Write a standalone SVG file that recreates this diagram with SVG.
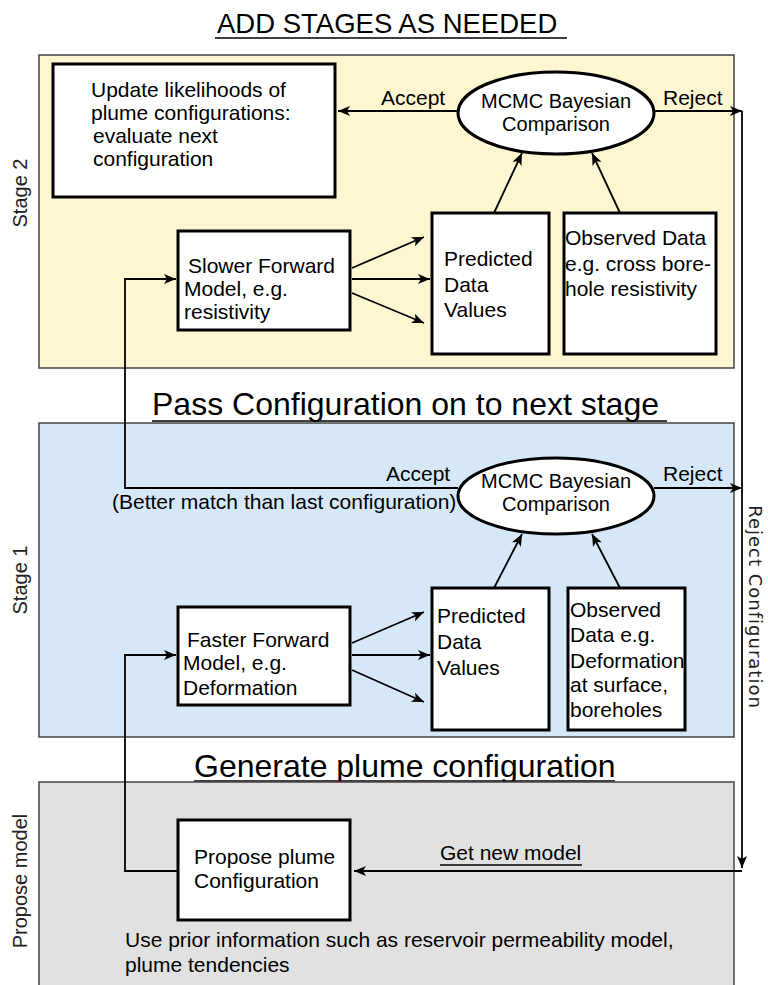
<svg xmlns="http://www.w3.org/2000/svg" width="768" height="985" viewBox="0 0 768 985">
<defs>
<marker id="ah" viewBox="0 0 12 10" refX="12" refY="5" markerWidth="12" markerHeight="10" orient="auto" markerUnits="userSpaceOnUse">
<path d="M0,0 L12,5 L0,10 L3,5 Z" fill="#000"/>
</marker>
<style>
text{font-family:"Liberation Sans",Arial,sans-serif;fill:#000;}
.t{font-size:21px;}
.m{font-size:20px;}
.h{font-size:32px;}
.side{font-size:20px;fill:#222;}
.panel{stroke:#444;stroke-width:1.5;}
.box{fill:#fff;stroke:#000;stroke-width:3;}
.ell{fill:#fff;stroke:#000;stroke-width:3;}
.c{fill:none;stroke:#000;stroke-width:1.8;}
.ul{stroke:#000;stroke-width:1.5;}
</style>
</defs>
<rect width="768" height="985" fill="#fff"/>

<g id="title">
<text x="217" y="33" style="font-size:27.5px">ADD STAGES AS NEEDED</text>
<line class="ul" x1="215" y1="38" x2="567" y2="38"/>
</g>

<g id="stage2-panel">
<rect class="panel" x="39" y="55" width="695" height="313" fill="#fdf6d0"/>
<text class="side" transform="translate(27,193) rotate(-90)" text-anchor="middle">Stage 2</text>
</g>

<g id="stage1-title">
<text class="h" x="152" y="415">Pass Configuration on to next stage</text>
<line class="ul" x1="152" y1="421" x2="667" y2="421"/>
</g>

<g id="stage1-panel">
<rect class="panel" x="39" y="423" width="695" height="314" fill="#d6e8f8"/>
<text class="side" transform="translate(27,580) rotate(-90)" text-anchor="middle">Stage 1</text>
</g>

<g id="stage0-title">
<text class="h" x="194" y="777">Generate plume configuration</text>
<line class="ul" x1="194" y1="781" x2="615" y2="781"/>
</g>

<g id="propose-panel">
<rect class="panel" x="39" y="782" width="695" height="215" fill="#e1e1e1"/>
<text class="side" transform="translate(27,881) rotate(-90)" text-anchor="middle">Propose model</text>
<text class="t" x="125" y="947">Use prior information such as reservoir permeability model,</text>
<text class="t" x="125" y="972">plume tendencies</text>
</g>

<g id="reject-config-label">
<text transform="translate(749,607) rotate(90)" text-anchor="middle" style="font-family:'DejaVu Sans',sans-serif;font-size:18px;letter-spacing:1px;fill:#222">Reject Configuration</text>
</g>

<g id="connectors">
<!-- stage 2 -->
<line class="c" x1="458" y1="111" x2="338" y2="111" marker-end="url(#ah)"/>
<line class="c" x1="654" y1="111" x2="742" y2="111" marker-end="url(#ah)"/>
<line class="c" x1="494" y1="213" x2="522" y2="153" marker-end="url(#ah)"/>
<line class="c" x1="620" y1="213" x2="592" y2="153" marker-end="url(#ah)"/>
<line class="c" x1="352" y1="268" x2="424" y2="237" marker-end="url(#ah)"/>
<line class="c" x1="352" y1="279" x2="430" y2="279" marker-end="url(#ah)"/>
<line class="c" x1="352" y1="293" x2="424" y2="323" marker-end="url(#ah)"/>
<path class="c" d="M458,488 H125 V279 H176" marker-end="url(#ah)"/>
<!-- stage 1 -->
<line class="c" x1="654" y1="488" x2="742" y2="488" marker-end="url(#ah)"/>
<line class="c" x1="494" y1="588" x2="522" y2="534" marker-end="url(#ah)"/>
<line class="c" x1="620" y1="588" x2="592" y2="534" marker-end="url(#ah)"/>
<line class="c" x1="352" y1="643" x2="424" y2="612" marker-end="url(#ah)"/>
<line class="c" x1="352" y1="655" x2="430" y2="655" marker-end="url(#ah)"/>
<line class="c" x1="352" y1="670" x2="424" y2="702" marker-end="url(#ah)"/>
<path class="c" d="M178,871 H125 V655 H176" marker-end="url(#ah)"/>
<!-- reject loop -->
<line class="c" x1="742" y1="111" x2="742" y2="868" marker-end="url(#ah)"/>
<line class="c" x1="742" y1="871" x2="354" y2="871" marker-end="url(#ah)"/>
</g>

<g id="edge-labels">
<text class="t" x="381" y="105">Accept</text>
<text class="t" x="663" y="105">Reject</text>
<text class="t" x="386" y="481">Accept</text>
<text class="t" x="663" y="481">Reject</text>
<text class="t" x="440" y="860">Get new model</text>
<line class="ul" x1="440" y1="865" x2="582" y2="865"/>
</g>

<g id="update-likelihoods">
<rect class="box" x="53" y="64" width="282" height="133"/>
<text class="t" x="91" y="97">Update likelihoods of</text>
<text class="t" x="91" y="120">plume configurations:</text>
<text class="t" x="93" y="143">evaluate next</text>
<text class="t" x="93" y="166">configuration</text>
</g>

<g id="mcmc-stage2">
<ellipse class="ell" cx="556" cy="113" rx="98" ry="41"/>
<text class="m" x="556" y="108" text-anchor="middle">MCMC Bayesian</text>
<text class="m" x="556" y="131" text-anchor="middle">Comparison</text>
</g>

<g id="slower-forward">
<rect class="box" x="178" y="231" width="172" height="99"/>
<text class="t" x="188" y="273">Slower Forward</text>
<text class="t" x="184" y="296">Model, e.g.</text>
<text class="t" x="184" y="319">resistivity</text>
</g>

<g id="predicted-stage2">
<rect class="box" x="432" y="213" width="117" height="141"/>
<text class="t" x="444" y="266">Predicted</text>
<text class="t" x="444" y="292">Data</text>
<text class="t" x="444" y="317">Values</text>
</g>

<g id="observed-stage2">
<rect class="box" x="564" y="213" width="152" height="141"/>
<text class="t" x="565" y="245">Observed Data</text>
<text class="t" x="565" y="271">e.g. cross bore-</text>
<text class="t" x="565" y="296">hole resistivity</text>
</g>

<g id="mcmc-stage1">
<ellipse class="ell" cx="556" cy="496" rx="98" ry="38"/>
<text class="m" x="556" y="488" text-anchor="middle">MCMC Bayesian</text>
<text class="m" x="556" y="511" text-anchor="middle">Comparison</text>
<text class="t" x="112" y="509">(Better match than last configuration)</text>
</g>

<g id="faster-forward">
<rect class="box" x="178" y="607" width="172" height="98"/>
<text class="t" x="187" y="647">Faster Forward</text>
<text class="t" x="183" y="670">Model, e.g.</text>
<text class="t" x="183" y="695">Deformation</text>
</g>

<g id="predicted-stage1">
<rect class="box" x="432" y="588" width="117" height="142"/>
<text class="t" x="437" y="623">Predicted</text>
<text class="t" x="437" y="649">Data</text>
<text class="t" x="437" y="675">Values</text>
</g>

<g id="observed-stage1">
<rect class="box" x="568" y="588" width="117" height="142"/>
<text class="t" x="570" y="617">Observed</text>
<text class="t" x="570" y="642">Data e.g.</text>
<text class="t" x="570" y="668">Deformation</text>
<text class="t" x="570" y="692">at surface,</text>
<text class="t" x="570" y="717">boreholes</text>
</g>

<g id="propose-config">
<rect class="box" x="178" y="820" width="172" height="100"/>
<text class="t" x="194" y="864">Propose plume</text>
<text class="t" x="194" y="888">Configuration</text>
</g>
</svg>
